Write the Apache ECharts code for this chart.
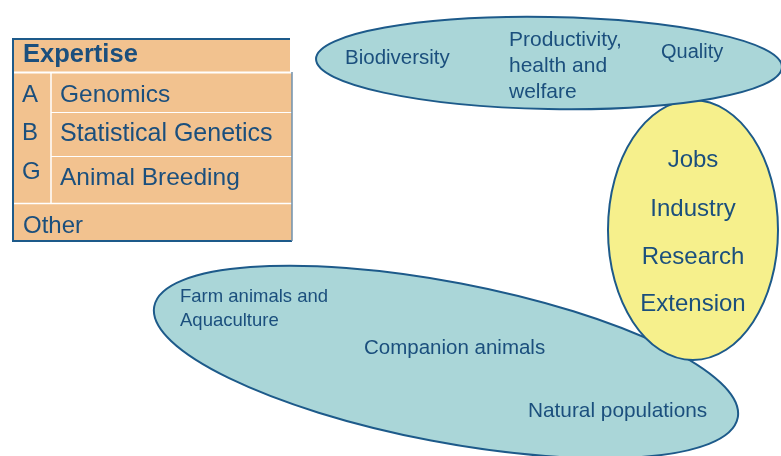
<!DOCTYPE html>
<html lang="en">
<head>
    <meta charset="UTF-8">
    <script src="https://cdn.jsdelivr.net/npm/echarts@6/dist/echarts.min.js"></script>
    <title>Expertise and impact</title>
    <style>
        html, body { margin: 0; padding: 0; background: #fff; }
        #main { width: 781px; height: 456px; }
    </style>
</head>
<body>
    <div id="main"></div>
<script>
    // texts of the diagram
    let expertiseTitle = 'Expertise';
    let abgLetters = ['A', 'B', 'G'];
    let expertiseAreas = ['Genomics', 'Statistical Genetics', 'Animal Breeding'];
    let otherLabel = 'Other';
    let breedingGoals = ['Biodiversity', 'Productivity,\nhealth and\nwelfare', 'Quality'];
    let impacts = ['Jobs', 'Industry', 'Research', 'Extension'];
    let populations = ['Farm animals and\nAquaculture', 'Companion animals', 'Natural populations'];

    let myChart = echarts.init(document.getElementById('main'));

    let ink = '#1b4f7d';
    let edge = '#1d5a8a';
    let teal = '#aad6d8';
    let yellow = '#f6f08c';
    let orange = '#f2c28f';
    let font = '"Liberation Sans", Arial, sans-serif';

    function txt(s, x, y, size, opts) {
        opts = opts || {};
        return {
            type: 'text',
            z: 20,
            style: {
                text: s,
                x: x,
                y: y,
                fill: ink,
                font: (opts.bold ? 'bold ' : '') + size + 'px ' + font,
                align: opts.align || 'left',
                verticalAlign: opts.va || 'middle',
                lineHeight: opts.lh
            }
        };
    }

    function line(x1, y1, x2, y2, color, w) {
        return {
            type: 'line',
            z: 15,
            shape: { x1: x1, y1: y1, x2: x2, y2: y2 },
            style: { stroke: color, lineWidth: w }
        };
    }

    let els = [];

    // expertise table
    els.push({ type: 'rect', z: 10, shape: { x: 13, y: 39, width: 277, height: 33 }, style: { fill: orange } });
    els.push({ type: 'rect', z: 10, shape: { x: 13, y: 72, width: 279, height: 169 }, style: { fill: orange } });
    els.push(line(13, 72.5, 292, 72.5, '#fff', 2));
    els.push(line(51, 72, 51, 203, '#fff', 1.5));
    els.push(line(51, 112.5, 292, 112.5, '#fff', 1.2));
    els.push(line(51, 156.5, 292, 156.5, '#fff', 1.2));
    els.push(line(13, 203.5, 292, 203.5, '#fff', 1.5));
    els.push(line(13, 39, 290, 39, edge, 2));
    els.push(line(13, 38, 13, 242, edge, 2));
    els.push(line(12, 241, 292, 241, edge, 2));
    els.push(line(292, 72, 292, 241, '#6f90ad', 1.5));

    els.push(txt(expertiseTitle, 23, 55, 25.5, { bold: true }));
    let rowY = [95, 134, 178];
    let letterY = [95, 133, 172];
    abgLetters.forEach((l, i) => els.push(txt(l, 22, letterY[i], 24)));
    els.push(txt(expertiseAreas[0], 60, rowY[0], 24.5));
    els.push(txt(expertiseAreas[1], 60, rowY[1], 25));
    els.push(txt(expertiseAreas[2], 60, rowY[2], 24.5));
    els.push(txt(otherLabel, 23, 226, 24));

    // ellipses
    els.push({
        type: 'ellipse', z: 5,
        x: 446, y: 362, rotation: -10.8 * Math.PI / 180,
        shape: { cx: 0, cy: 0, rx: 297, ry: 80 },
        style: { fill: teal, stroke: edge, lineWidth: 2 }
    });
    els.push({
        type: 'ellipse', z: 6,
        x: 693, y: 230,
        shape: { cx: 0, cy: 0, rx: 85, ry: 130 },
        style: { fill: yellow, stroke: edge, lineWidth: 2 }
    });
    els.push({
        type: 'ellipse', z: 7,
        x: 549, y: 63, rotation: -1 * Math.PI / 180,
        shape: { cx: 0, cy: 0, rx: 233, ry: 46 },
        style: { fill: teal, stroke: edge, lineWidth: 2 }
    });

    // breeding goals
    els.push(txt(breedingGoals[0], 345, 58, 20.5));
    els.push(txt(breedingGoals[1], 509, 27, 21, { va: 'top', lh: 26 }));
    els.push(txt(breedingGoals[2], 661, 52, 20));

    // impacts
    let impactY = [160, 209, 257, 304];
    impacts.forEach((s, i) => els.push(txt(s, 693, impactY[i], 24, { align: 'center' })));

    // populations
    els.push(txt(populations[0], 180, 284.5, 18.5, { va: 'top', lh: 24 }));
    els.push(txt(populations[1], 364, 348, 20.5));
    els.push(txt(populations[2], 528, 411, 20.8));

    myChart.setOption({
        animation: false,
        graphic: els
    });
</script>
</body>
</html>
